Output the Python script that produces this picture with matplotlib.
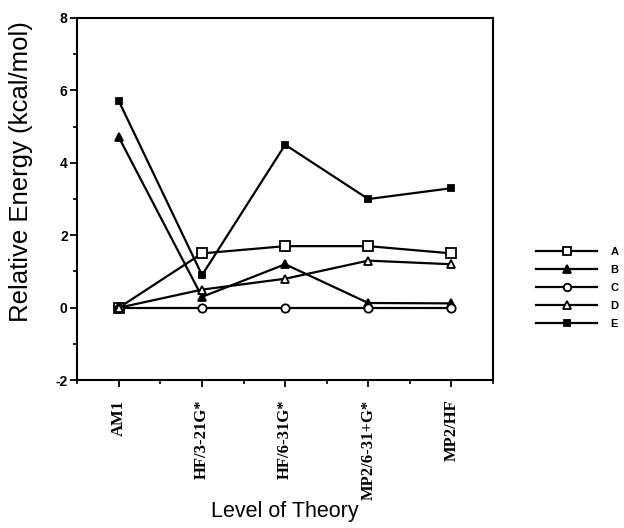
import matplotlib
matplotlib.use('Agg')
import matplotlib.pyplot as plt
from matplotlib.ticker import MultipleLocator

plt.rcParams['axes.unicode_minus'] = False

levels = ['AM1', 'HF/3-21G*', 'HF/6-31G*', 'MP2/6-31+G*', 'MP2/HF']
series_names = ['A', 'B', 'C', 'D', 'E']
vals_a = [0.0, 1.5, 1.7, 1.7, 1.5]
vals_b = [4.7, 0.3, 1.2, 0.13, 0.12]
vals_c = [0.0, 0.0, 0.0, 0.0, 0.0]
vals_d = [0.0, 0.5, 0.8, 1.3, 1.2]
vals_e = [5.7, 0.9, 4.5, 3.0, 3.3]

styles = {
    'A': dict(marker='s', mfc='white', ms=7),
    'B': dict(marker='^', mfc='black', ms=6),
    'C': dict(marker='o', mfc='white', ms=6),
    'D': dict(marker='^', mfc='white', ms=6),
    'E': dict(marker='s', mfc='black', ms=5),
}

fig = plt.figure(figsize=(6.24, 5.28), dpi=100)
ax = fig.add_axes([0.124, 0.28, 0.666, 0.686])

x = list(range(len(levels)))
for name, vals in zip(series_names, [vals_a, vals_b, vals_c, vals_d, vals_e]):
    ax.plot(x, vals, color='black', lw=1.6, mec='black', mew=1.3,
            label=name, clip_on=False, **styles[name])

ax.set_xlim(-0.5, 4.5)
ax.set_ylim(-2, 8)
ax.set_xticks(x)
ax.set_xticklabels(levels, rotation=90, family='Liberation Serif',
                   fontsize=12, fontweight='bold')
ax.xaxis.set_minor_locator(MultipleLocator(0.5))
ax.yaxis.set_major_locator(MultipleLocator(2))
ax.yaxis.set_minor_locator(MultipleLocator(1))
ax.tick_params(which='major', direction='out', length=5, width=1.3)
ax.tick_params(which='minor', direction='out', length=3, width=1.2)
ax.tick_params(axis='x', pad=9)
ax.tick_params(axis='y', pad=2)
for lbl in ax.get_yticklabels():
    lbl.set_family('Liberation Sans')
    lbl.set_fontweight('bold')
    lbl.set_fontsize(10)
for sp in ax.spines.values():
    sp.set_linewidth(1.5)

# axis titles placed by hand, the y one sits above the axes centre
fig.text(21 / 624, 1 - 172 / 528, 'Relative Energy (kcal/mol)',
         family='Liberation Sans', fontsize=18.5, rotation=90,
         ha='center', va='center')
ax.set_xlabel('Level of Theory', family='Liberation Sans', fontsize=15.5)
ax.xaxis.set_label_coords(0.5, -0.335)

leg = ax.legend(loc='center left', bbox_to_anchor=(1.08, 0.255), frameon=False,
                prop={'family': 'Liberation Sans', 'size': 8, 'weight': 'bold'},
                handlelength=5.5, handletextpad=1.2, labelspacing=0.72,
                markerscale=0.9)

fig.savefig('out.png', dpi=100)
